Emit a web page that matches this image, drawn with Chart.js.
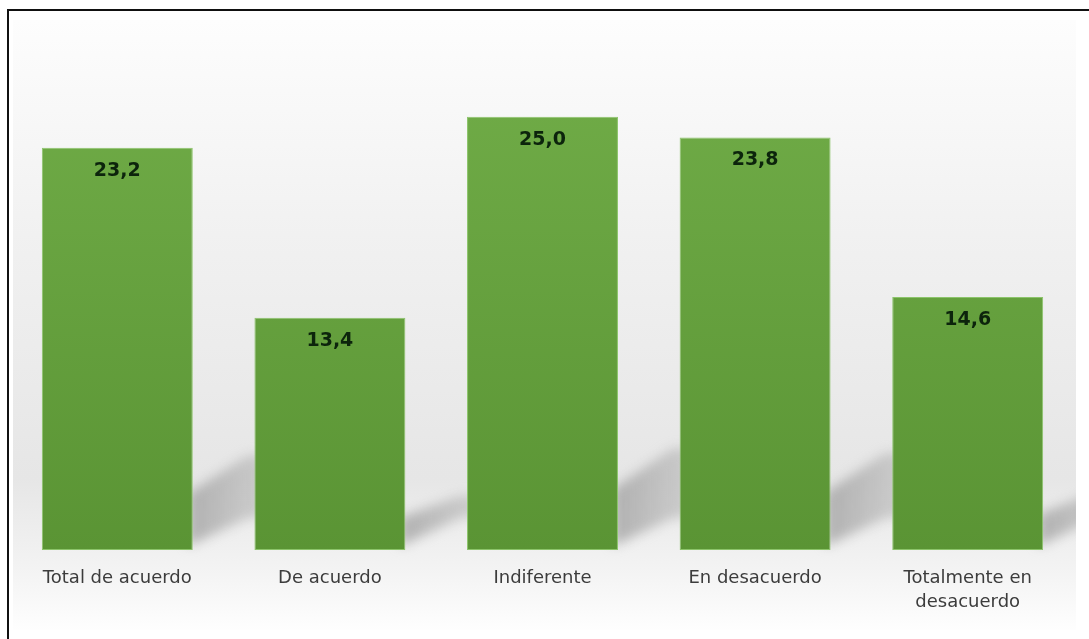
<!DOCTYPE html>
<html>
<head>
<meta charset="utf-8">
<script src="https://cdn.jsdelivr.net/npm/chart.js@4/dist/chart.umd.min.js"></script>
<style>
    html, body { margin: 0; padding: 0; background: #fff; }
    #wrap { position: relative; width: 1089px; height: 639px; }
    #frame {
        position: absolute; left: 7px; top: 9px; right: 0; bottom: 0;
        border-top: 2px solid #111; border-left: 2px solid #111;
        pointer-events: none;
    }
</style>
</head>
<body>
<div id="wrap">
    <canvas id="grafico" width="1089" height="639"></canvas>
    <div id="frame"></div>
</div>
<script>
/* dati */
const categorie = ["Total de acuerdo", "De acuerdo", "Indiferente", "En desacuerdo", ["Totalmente en", "desacuerdo"]];
const valori = [23.2, 13.4, 25.0, 23.8, 14.6];
const etichette = ["23,2", "13,4", "25,0", "23,8", "14,6"];

/* sfondo grigio sfumato */
const sfondo = {
    id: "sfondo",
    beforeDraw(chart) {
        const ctx = chart.ctx;
        ctx.save();
        ctx.fillStyle = "#fff";
        ctx.fillRect(0, 0, chart.width, chart.height);
        const g = ctx.createLinearGradient(0, 20, 0, 630);
        g.addColorStop(0, "#fdfdfd");
        g.addColorStop(0.35, "#f1f1f1");
        g.addColorStop(0.75, "#e6e6e6");
        g.addColorStop(0.9, "#f3f3f3");
        g.addColorStop(1, "#fefefe");
        ctx.fillStyle = g;
        ctx.fillRect(13, 20, 1063, 610);
        ctx.restore();
    }
};

/* ombre dietro le barre */
const ombre = {
    id: "ombre",
    beforeDatasetsDraw(chart) {
        const ctx = chart.ctx;
        const meta = chart.getDatasetMeta(0);
        ctx.save();
        ctx.beginPath();
        ctx.rect(0, 0, 1076, chart.height);
        ctx.clip();
        ctx.filter = "blur(6px)";
        meta.data.forEach(bar => {
            const right = bar.x + bar.width / 2;
            const bottom = bar.base;
            const h = bar.base - bar.y;
            const g = ctx.createLinearGradient(right, 0, right + 110, 0);
            g.addColorStop(0, "rgba(155,155,155,0.72)");
            g.addColorStop(0.6, "rgba(170,170,170,0.48)");
            g.addColorStop(1, "rgba(190,190,190,0)");
            ctx.fillStyle = g;
            ctx.beginPath();
            ctx.moveTo(right - 5, bottom - 4);
            ctx.lineTo(right - 5, bottom - 0.14 * h);
            ctx.lineTo(right + 55, bottom - 0.235 * h);
            ctx.lineTo(right + 110, bottom - 0.235 * h);
            ctx.lineTo(right + 110, bottom - 36);
            ctx.lineTo(right + 55, bottom - 32);
            ctx.closePath();
            ctx.fill();
        });
        ctx.restore();
    }
};

/* valori dentro le barre */
const valoriBarre = {
    id: "valoriBarre",
    afterDatasetsDraw(chart) {
        const ctx = chart.ctx;
        const meta = chart.getDatasetMeta(0);
        ctx.save();
        ctx.font = "bold 19px 'DejaVu Sans'";
        ctx.fillStyle = "#0c240c";
        ctx.textAlign = "center";
        ctx.textBaseline = "middle";
        meta.data.forEach((bar, i) => {
            ctx.fillText(etichette[i], bar.x, bar.y + 23);
        });
        ctx.restore();
    }
};

const ctx = document.getElementById("grafico").getContext("2d");

new Chart(ctx, {
    type: "bar",
    data: {
        labels: categorie,
        datasets: [{
            data: valori,
            backgroundColor: c => {
                const area = c.chart.chartArea;
                if (!area) return "#66a040";
                const g = c.chart.ctx.createLinearGradient(0, area.top, 0, area.bottom);
                g.addColorStop(0, "#72ae49");
                g.addColorStop(1, "#5a9434");
                return g;
            },
            borderColor: "#8cc46a",
            borderWidth: 1,
            borderSkipped: false,
            barPercentage: 0.71,
            categoryPercentage: 1
        }]
    },
    options: {
        responsive: false,
        animation: false,
        layout: { padding: { left: 11, right: 15, top: 30, bottom: 0 } },
        scales: {
            x: {
                grid: { display: false },
                border: { display: false },
                ticks: {
                    color: "#3c3c3c",
                    font: { family: "'DejaVu Sans'", size: 18, lineHeight: 1.35 },
                    padding: 8,
                    maxRotation: 0,
                    autoSkip: false
                },
                afterFit: s => { s.height = 89; }
            },
            y: {
                display: false,
                min: 0,
                max: 30
            }
        },
        plugins: {
            legend: { display: false },
            tooltip: { enabled: false }
        }
    },
    plugins: [sfondo, ombre, valoriBarre]
});
</script>
</body>
</html>
